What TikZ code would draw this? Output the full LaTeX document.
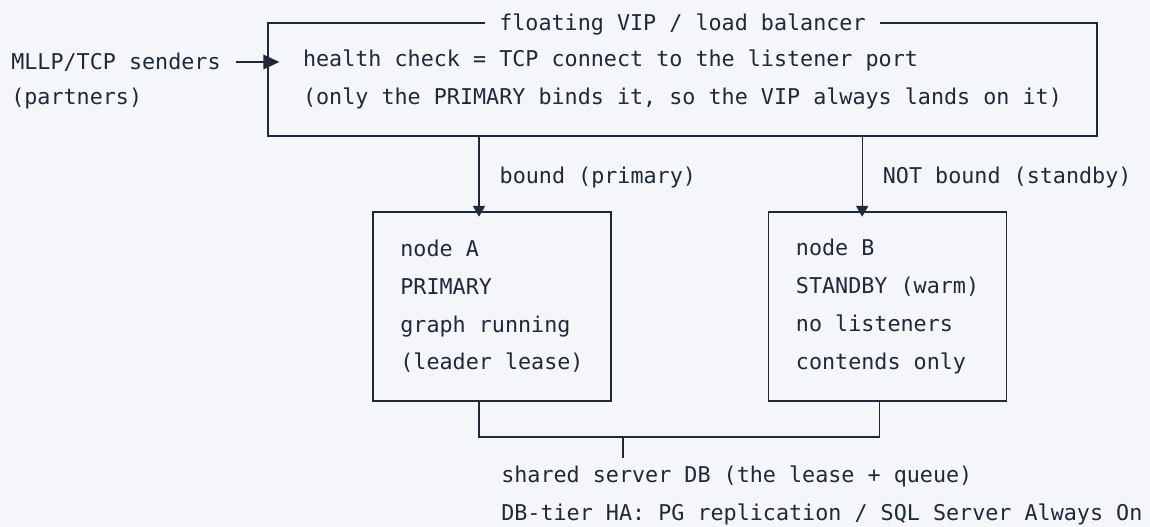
\documentclass[tikz,border=0pt]{standalone}
\usepackage{fontspec}
\setmonofont{DejaVu Sans Mono}
\usetikzlibrary{arrows.meta}
\definecolor{ink}{HTML}{1E293B}
\definecolor{paper}{HTML}{F5F6FA}
\newcommand{\asciifont}{\ttfamily\fontsize{16.3}{28.3}\selectfont}
\tikzstyle{txt} = [font=\asciifont, text=ink, inner sep=0pt]
\tikzstyle{block} = [rectangle, draw=ink, line width=1pt, font=\asciifont, text=ink,
    align=left, inner sep=0pt]
\tikzstyle{wire} = [draw=ink, line width=1pt]
\tikzstyle{line} = [draw=ink, line width=1pt, -{Triangle[length=8pt, width=9pt]}]
\tikzstyle{feed} = [draw=ink, line width=1pt, -{Triangle[length=12pt, width=11pt]}]
\tikzstyle{lbl} = [txt, anchor=west, xshift=15pt, yshift=-2.5pt]

\begin{document}
\begin{tikzpicture}[x=0.75pt, y=-0.75pt]
    \path[fill=paper, use as bounding box] (0,0) rectangle (1150,527);

    \node[txt, anchor=west] (src) at (11,62) {MLLP/TCP senders};
    \node[txt, anchor=west] (src2) at (11,99) {(partners)};
    \node[block, minimum width=621.75pt, minimum height=84.75pt] (vip) at (682.5,79.5)
        {health check = TCP connect to the listener port\\(only the PRIMARY binds it, so the VIP always lands on it)};
    \node[txt, fill=paper, inner xsep=11pt] (title) at ([yshift=-1.5pt]vip.north) {floating VIP / load balancer};
    \node[block, minimum width=178.5pt, minimum height=141.75pt] (a) at (492,306.5)
        {node A\\PRIMARY\\graph running\\(leader lease)};
    \node[block, minimum width=178.5pt, minimum height=141.75pt] (b) at (887.5,306.5)
        {node B\\STANDBY (warm)\\no listeners\\contends only};
    \node[txt, align=left, anchor=north west] (db) at (501,466)
        {shared server DB (the lease + queue)\\DB-tier HA: PG replication / SQL Server Always On};
    \coordinate (bus) at (623,437);

    \path[feed, shorten <=11pt, shorten >=-9pt] (src) -- (src -| vip.west);
    \path[line, shorten >=-4pt] ([xshift=-9.75pt]a.north |- vip.south) -- node[lbl] {bound (primary)} ([xshift=-9.75pt]a.north);
    \path[line, shorten >=-4pt] ([xshift=-19pt]b.north |- vip.south) -- node[lbl] {NOT bound (standby)} ([xshift=-19pt]b.north);
    \path[wire] ([xshift=-9.75pt]a.south) |- (bus) -| ([xshift=-6pt]b.south);
    \path[wire, shorten >=6pt] (bus) -- (bus |- db.north);
\end{tikzpicture}
\end{document}
